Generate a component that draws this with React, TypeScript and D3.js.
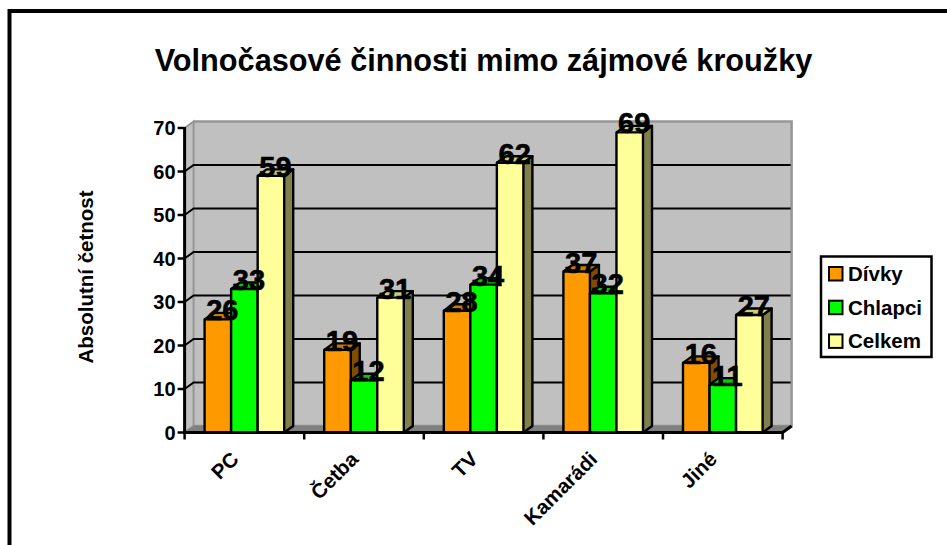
import React from 'react';
import * as d3 from 'd3';

const categories = ['PC', 'Četba', 'TV', 'Kamarádi', 'Jiné'];
const seriesNames = ['Dívky', 'Chlapci', 'Celkem'];
const divky = [26, 19, 28, 37, 16];
const chlapci = [33, 12, 34, 32, 11];
const celkem = [59, 31, 62, 69, 27];
const yTicks = [0, 10, 20, 30, 40, 50, 60, 70];

const seriesValues = [divky, chlapci, celkem];
const fills = ['#FF9900', '#00FF00', '#FFFF99'];
const tops = ['#CC7A00', '#00CC00', '#CCCC7A'];
const sides = ['#7F4C00', '#008000', '#80804C'];

const width = 947;
const height = 545;
const depthX = 9;
const depthY = 6.5;
const font = '"Liberation Sans", Arial, sans-serif';

const x0 = d3.scaleBand<string>().domain(categories).range([184.6, 782.6]);
const y = d3.scaleLinear().domain([0, 70]).range([432.5, 128]);
const x1 = d3.scaleBand<string>().domain(seriesNames).range([20, 99.6]);

const poly = d3.line();

export default function App() {
  const left = x0.range()[0];
  const right = x0.range()[1];
  const y0 = y(0);
  const yTop = y(70);

  return (
    <svg width={width} height={height} style={{ position: 'fixed', left: 0, top: 0, background: '#fff' }} fontFamily={font} fontWeight="bold">
      {/* outer frame, only the top and left edges are in the picture */}
      <path d={`M9.5 ${height + 5}V11H${width + 5}`} fill="none" stroke="#000" strokeWidth={4} />

      <text x={483.5} y={71} textAnchor="middle" fontSize={30.7}>Volnočasové činnosti mimo zájmové kroužky</text>

      {/* walls and floor */}
      <path d={poly([[left + depthX, yTop - depthY], [right + depthX, yTop - depthY], [right + depthX, y0 - depthY], [left + depthX, y0 - depthY]])!} fill="#C0C0C0" stroke="#969696" strokeWidth={2.5} />
      <path d={poly([[left, yTop], [left + depthX, yTop - depthY], [left + depthX, y0 - depthY], [left, y0]])!} fill="#C0C0C0" stroke="#969696" strokeWidth={2} />
      <path d={poly([[left, y0], [left + depthX, y0 - depthY], [right + depthX, y0 - depthY], [right, y0]])!} fill="#808080" stroke="#808080" strokeWidth={1} />

      {/* gridlines */}
      {yTicks.slice(1, -1).map(t => (
        <path key={t} d={poly([[left, y(t)], [left + depthX, y(t) - depthY], [right + depthX - 1, y(t) - depthY]])!} fill="none" stroke="#000" strokeWidth={2} />
      ))}

      {/* bars */}
      {categories.map((c, i) => seriesNames.map((s, j) => {
        const bx = x0(c)! + x1(s)!;
        const bw = x1.bandwidth();
        const by = y(seriesValues[j][i]);
        return (
          <g key={c + s} stroke="#000" strokeWidth={2.4} strokeLinejoin="round">
            <path d={poly([[bx + bw, by], [bx + bw + depthX, by - depthY], [bx + bw + depthX, y0 - depthY], [bx + bw, y0]])!} fill={sides[j]} />
            <path d={poly([[bx, by], [bx + depthX, by - depthY], [bx + bw + depthX, by - depthY], [bx + bw, by]])!} fill={tops[j]} />
            <rect x={bx} y={by} width={bw} height={y0 - by} fill={fills[j]} />
          </g>
        );
      }))}

      {/* axes */}
      <path d={`M${left} ${yTop - 1}V${y0}`} stroke="#000" strokeWidth={3} fill="none" />
      <path d={`M${left - 1.5} ${y0}H${right}L${right + depthX} ${y0 - depthY}`} stroke="#000" strokeWidth={3} fill="none" />
      {yTicks.map(t => (
        <g key={t}>
          <line x1={left - 7} x2={left} y1={y(t)} y2={y(t)} stroke="#000" strokeWidth={2.5} />
          <text x={left - 9} y={y(t) + 7} textAnchor="end" fontSize={20}>{t}</text>
        </g>
      ))}
      {[...categories.map(c => x0(c)!), right].map(v => (
        <line key={v} x1={v} x2={v} y1={y0} y2={y0 + 7} stroke="#000" strokeWidth={2.5} />
      ))}
      {categories.map(c => {
        const cx = x0(c)! + x0.bandwidth() / 2;
        return (
          <text key={c} transform={`translate(${cx - 9.5},${y0 + 23}) rotate(-45)`} textAnchor="end" fontSize={20.5} dy={7}>{c}</text>
        );
      })}

      <text transform="translate(93,277) rotate(-90)" textAnchor="middle" fontSize={20.5}>Absolutní četnost</text>

      {/* value labels sit on top of everything */}
      {categories.map((c, i) => seriesNames.map((s, j) => (
        <text key={c + s} x={x0(c)! + x1(s)! + x1.bandwidth() / 2 + 4.5} y={y(seriesValues[j][i]) + 1} textAnchor="middle" fontSize={29} fill="#000" stroke="#000" strokeWidth={0.6}>
          {seriesValues[j][i]}
        </text>
      )))}

      {/* legend */}
      <rect x={821} y={256.5} width={110.5} height={100.5} fill="#fff" stroke="#000" strokeWidth={2.5} />
      {seriesNames.map((s, j) => (
        <g key={s}>
          <rect x={829} y={267 + j * 33.7} width={13.5} height={13.5} fill={fills[j]} stroke="#000" strokeWidth={2} />
          <text x={848} y={281 + j * 33.7} fontSize={20.5}>{s}</text>
        </g>
      ))}
    </svg>
  );
}
